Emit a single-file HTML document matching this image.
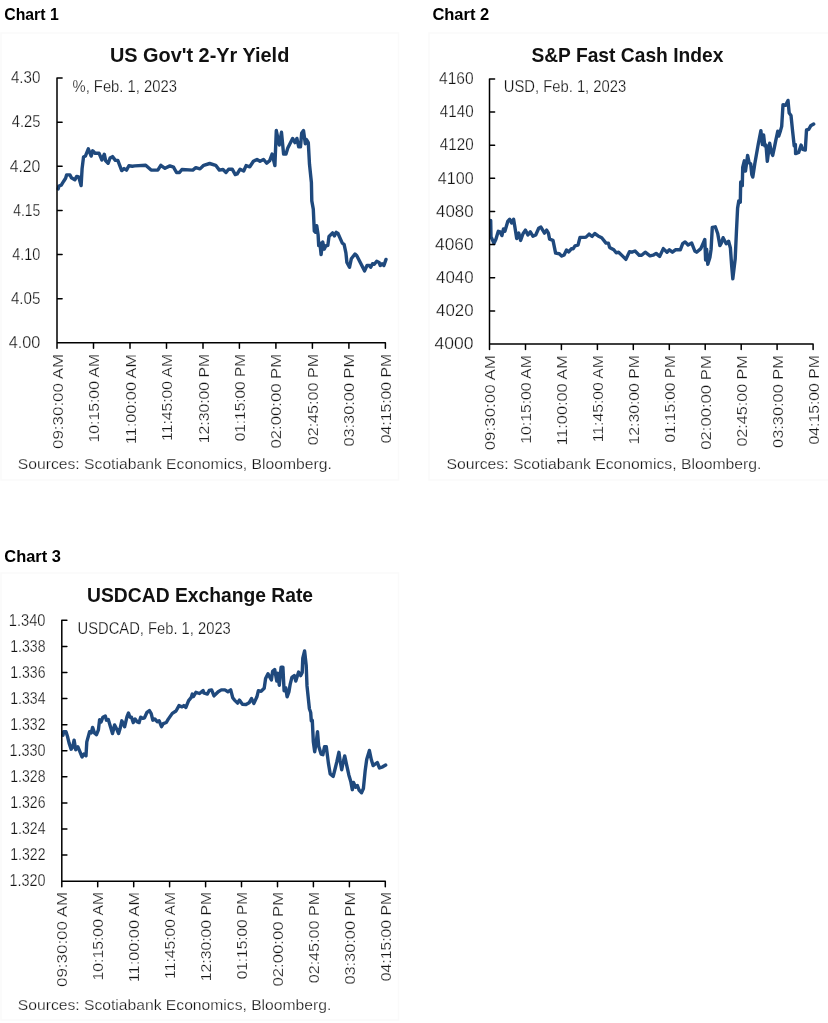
<!DOCTYPE html>
<html lang="en">
<head>
<meta charset="utf-8">
<title>Charts</title>
<style>
html,body{margin:0;padding:0;background:#fff;}
body{width:828px;height:1023px;overflow:hidden;font-family:'Liberation Sans', Arial, sans-serif;}
svg{display:block;}
svg text.t{stroke:#fff;stroke-width:0.25px;}
svg text{font-family:'Liberation Sans', Arial, sans-serif;white-space:pre;}
</style>
</head>
<body>
<svg width="828" height="1023" viewBox="0 0 828 1023">
<rect width="828" height="1023" fill="#fff"/>
<rect x="1" y="33" width="397.5" height="447" fill="none" stroke="#fafafa" stroke-width="1.5"/>
<text x="4.3" y="20.4" font-size="16.2" font-weight="bold" fill="#000" textLength="54.4" lengthAdjust="spacingAndGlyphs">Chart 1</text>
<text x="109.9" y="62.4" font-size="20.5" font-weight="bold" fill="#111" textLength="179.4" lengthAdjust="spacingAndGlyphs">US Gov't 2-Yr Yield</text>
<text x="72.5" y="92.1" font-size="16.8" class="t" fill="#141414" textLength="104.4" lengthAdjust="spacingAndGlyphs">%, Feb. 1, 2023</text>
<path d="M58.2,188.9 L58.9,186.0 L61.3,185.1 L63.7,181.2 L65.6,178.3 L66.6,174.9 L70.0,174.9 L71.4,177.8 L74.8,179.8 L76.7,176.4 L78.7,176.9 L81.1,185.6 L82.1,168.6 L83.5,157.1 L85.4,156.1 L88.3,148.8 L91.2,156.1 L92.7,150.8 L95.1,153.2 L99.0,153.2 L101.9,160.0 L104.3,154.2 L105.7,160.9 L108.1,163.3 L110.1,158.0 L112.5,156.6 L115.4,160.4 L117.8,160.4 L121.7,170.6 L124.1,168.6 L126.5,170.1 L128.9,165.7 L132.3,166.2 L134.8,165.9 L145.7,165.3 L151.1,170.1 L157.8,170.1 L160.8,165.3 L165.0,168.3 L169.9,165.9 L173.5,167.1 L176.5,172.5 L179.5,172.5 L181.9,169.5 L192.8,170.1 L195.8,167.7 L200.0,168.9 L203.7,165.3 L209.7,163.5 L215.7,165.3 L219.4,170.1 L223.0,169.5 L226.0,172.5 L228.6,169.2 L232.2,169.2 L235.3,174.6 L237.1,174.0 L240.1,169.2 L243.7,171.0 L246.1,165.6 L249.8,166.8 L253.4,161.3 L257.0,159.5 L260.0,161.3 L263.6,159.5 L266.7,163.1 L269.7,160.7 L272.1,154.1 L274.9,165.6 L276.3,130.5 L279.3,145.0 L281.5,132.3 L283.6,154.1 L286.0,154.1 L287.8,148.0 L292.6,138.4 L295.0,142.6 L296.9,138.4 L298.7,146.8 L300.5,146.8 L301.7,132.9 L303.5,130.5 L305.3,143.8 L306.5,139.6 L308.3,142.6 L309.5,164.3 L311.4,182.5 L311.8,200.9 L313.3,209.3 L314.3,231.1 L315.5,232.3 L316.7,225.6 L318.1,234.7 L318.7,245.6 L319.9,243.1 L321.1,254.6 L322.7,241.9 L324.2,249.2 L326.0,245.6 L327.8,245.6 L329.0,236.5 L332.6,232.9 L334.4,235.9 L336.2,232.3 L338.0,233.5 L342.3,243.1 L344.1,244.3 L345.9,252.8 L346.9,262.5 L349.5,267.3 L351.3,258.8 L355.0,254.0 L356.8,255.8 L364.6,270.9 L367.0,265.5 L369.4,265.5 L370.7,267.3 L372.5,263.7 L374.3,264.3 L376.7,261.3 L379.1,262.5 L380.3,265.5 L382.1,263.7 L383.9,265.5 L386.0,259.4" fill="none" stroke="#1f497d" stroke-width="3.4" stroke-linejoin="round" stroke-linecap="round"/>
<path d="M57.0,78.1 V342.8 H385.4 M57.0,78.1 h5.1 M57.0,122.2 h5.1 M57.0,166.3 h5.1 M57.0,210.5 h5.1 M57.0,254.6 h5.1 M57.0,298.7 h5.1 M57.0,342.8 v5.5 M93.5,342.8 v5.5 M130.0,342.8 v5.5 M166.5,342.8 v5.5 M203.0,342.8 v5.5 M239.4,342.8 v5.5 M275.9,342.8 v5.5 M312.4,342.8 v5.5 M348.9,342.8 v5.5 M385.4,342.8 v5.5" fill="none" stroke="#000" stroke-width="1.5" stroke-linecap="round" stroke-linejoin="round"/>
<text x="10.9" y="83.3" font-size="15.6" class="t" fill="#141414" textLength="29.5" lengthAdjust="spacingAndGlyphs">4.30</text>
<text x="11.7" y="127.4" font-size="15.6" class="t" fill="#141414" textLength="28.7" lengthAdjust="spacingAndGlyphs">4.25</text>
<text x="9.7" y="171.5" font-size="15.6" class="t" fill="#141414" textLength="30.7" lengthAdjust="spacingAndGlyphs">4.20</text>
<text x="13.2" y="215.7" font-size="15.6" class="t" fill="#141414" textLength="27.2" lengthAdjust="spacingAndGlyphs">4.15</text>
<text x="12.3" y="259.8" font-size="15.6" class="t" fill="#141414" textLength="28.1" lengthAdjust="spacingAndGlyphs">4.10</text>
<text x="10.9" y="303.9" font-size="15.6" class="t" fill="#141414" textLength="29.5" lengthAdjust="spacingAndGlyphs">4.05</text>
<text x="8.8" y="348.0" font-size="15.6" class="t" fill="#141414" textLength="31.6" lengthAdjust="spacingAndGlyphs">4.00</text>
<text transform="translate(62.5,449.0) rotate(-90)" font-size="15.5" class="t" fill="#141414" textLength="95.1" lengthAdjust="spacingAndGlyphs">09:30:00 AM</text>
<text transform="translate(99.0,442.5) rotate(-90)" font-size="15.5" class="t" fill="#141414" textLength="88.6" lengthAdjust="spacingAndGlyphs">10:15:00 AM</text>
<text transform="translate(135.5,444.3) rotate(-90)" font-size="15.5" class="t" fill="#141414" textLength="90.4" lengthAdjust="spacingAndGlyphs">11:00:00 AM</text>
<text transform="translate(172.0,440.9) rotate(-90)" font-size="15.5" class="t" fill="#141414" textLength="87.0" lengthAdjust="spacingAndGlyphs">11:45:00 AM</text>
<text transform="translate(208.5,443.2) rotate(-90)" font-size="15.5" class="t" fill="#141414" textLength="89.3" lengthAdjust="spacingAndGlyphs">12:30:00 PM</text>
<text transform="translate(244.9,441.3) rotate(-90)" font-size="15.5" class="t" fill="#141414" textLength="87.4" lengthAdjust="spacingAndGlyphs">01:15:00 PM</text>
<text transform="translate(281.4,448.5) rotate(-90)" font-size="15.5" class="t" fill="#141414" textLength="94.6" lengthAdjust="spacingAndGlyphs">02:00:00 PM</text>
<text transform="translate(317.9,445.3) rotate(-90)" font-size="15.5" class="t" fill="#141414" textLength="91.4" lengthAdjust="spacingAndGlyphs">02:45:00 PM</text>
<text transform="translate(354.4,446.6) rotate(-90)" font-size="15.5" class="t" fill="#141414" textLength="92.7" lengthAdjust="spacingAndGlyphs">03:30:00 PM</text>
<text transform="translate(390.9,443.2) rotate(-90)" font-size="15.5" class="t" fill="#141414" textLength="89.3" lengthAdjust="spacingAndGlyphs">04:15:00 PM</text>
<text x="17.8" y="469.0" font-size="15.3" class="t" fill="#141414" textLength="314.0" lengthAdjust="spacingAndGlyphs">Sources: Scotiabank Economics, Bloomberg.</text>
<rect x="429" y="33" width="411" height="447" fill="none" stroke="#fafafa" stroke-width="1.5"/>
<text x="432.4" y="20.4" font-size="16.2" font-weight="bold" fill="#000" textLength="56.8" lengthAdjust="spacingAndGlyphs">Chart 2</text>
<text x="531.4" y="62.1" font-size="20.5" font-weight="bold" fill="#111" textLength="192.0" lengthAdjust="spacingAndGlyphs">S&amp;P Fast Cash Index</text>
<text x="503.8" y="92.1" font-size="16.8" class="t" fill="#141414" textLength="122.4" lengthAdjust="spacingAndGlyphs">USD, Feb. 1, 2023</text>
<path d="M490.7,220.5 L491.0,236.8 L494.0,243.4 L495.9,239.2 L498.3,231.3 L500.1,231.9 L501.9,235.6 L503.5,228.9 L504.9,231.3 L507.9,221.1 L509.7,219.3 L511.6,222.9 L513.6,219.3 L514.8,226.5 L516.7,238.6 L518.8,233.1 L520.6,240.4 L523.0,233.7 L525.4,230.1 L527.9,235.0 L530.3,231.9 L532.9,236.2 L535.7,235.0 L538.7,228.3 L540.9,227.1 L544.5,233.1 L546.6,230.1 L548.4,233.1 L549.6,239.2 L553.0,240.4 L555.6,253.1 L559.3,253.7 L561.7,256.1 L564.1,254.9 L566.5,250.0 L568.7,251.9 L571.3,248.8 L573.1,248.8 L575.0,245.8 L578.0,245.2 L580.0,237.4 L584.6,237.4 L586.0,237.1 L589.1,234.1 L592.1,236.5 L594.7,233.5 L598.1,235.9 L601.7,237.7 L606.0,243.1 L608.4,243.1 L609.6,247.4 L613.8,249.8 L616.2,252.8 L618.6,252.2 L622.9,256.4 L625.9,259.4 L629.5,251.6 L631.9,252.2 L635.0,251.0 L639.2,255.2 L641.6,255.2 L645.2,252.2 L650.0,255.8 L653.1,255.2 L656.1,253.4 L659.7,256.4 L663.3,248.6 L667.0,252.2 L669.4,249.8 L672.4,252.2 L675.4,249.8 L680.3,249.8 L682.7,243.7 L685.1,241.9 L688.1,245.0 L691.7,243.1 L694.8,251.0 L696.6,252.2 L700.8,248.6 L703.2,243.1 L704.8,239.5 L705.6,260.0 L706.6,249.2 L707.8,264.3 L709.9,257.6 L711.1,249.2 L712.3,227.4 L715.3,226.8 L717.7,233.5 L719.9,245.6 L721.3,243.1 L723.1,237.7 L726.2,243.7 L728.6,241.3 L730.4,248.0 L731.6,264.9 L732.8,278.8 L735.2,258.8 L736.4,232.3 L737.6,208.1 L738.8,200.9 L740.3,202.1 L740.7,182.0 L742.3,185.6 L742.7,167.5 L744.3,160.8 L745.5,171.1 L747.6,155.4 L749.1,162.6 L750.7,163.8 L751.8,174.7 L752.8,177.1 L754.8,163.8 L756.7,153.0 L758.2,144.5 L760.9,130.6 L762.4,144.5 L763.6,134.9 L764.8,145.7 L766.0,145.1 L767.3,161.4 L769.7,143.3 L771.2,151.8 L772.7,155.4 L774.5,146.9 L775.7,140.9 L777.8,131.2 L778.7,136.1 L780.5,130.6 L781.7,126.4 L783.0,104.7 L785.7,105.3 L788.0,100.4 L789.2,113.1 L791.0,115.5 L792.6,131.2 L794.2,145.7 L795.4,144.5 L795.6,153.6 L798.7,152.4 L801.1,145.1 L802.6,149.3 L805.3,150.0 L806.5,130.0 L808.7,129.4 L810.7,125.8 L813.7,124.0" fill="none" stroke="#1f497d" stroke-width="3.4" stroke-linejoin="round" stroke-linecap="round"/>
<path d="M489.5,78.9 V344.0 H813.1 M489.5,78.9 h5.1 M489.5,112.0 h5.1 M489.5,145.2 h5.1 M489.5,178.3 h5.1 M489.5,211.5 h5.1 M489.5,244.6 h5.1 M489.5,277.7 h5.1 M489.5,310.9 h5.1 M489.5,344.0 v5.5 M525.5,344.0 v5.5 M561.4,344.0 v5.5 M597.4,344.0 v5.5 M633.3,344.0 v5.5 M669.3,344.0 v5.5 M705.2,344.0 v5.5 M741.2,344.0 v5.5 M777.1,344.0 v5.5 M813.1,344.0 v5.5" fill="none" stroke="#000" stroke-width="1.5" stroke-linecap="round" stroke-linejoin="round"/>
<text x="439.0" y="84.1" font-size="15.6" class="t" fill="#141414" textLength="34.6" lengthAdjust="spacingAndGlyphs">4160</text>
<text x="439.8" y="117.2" font-size="15.6" class="t" fill="#141414" textLength="33.8" lengthAdjust="spacingAndGlyphs">4140</text>
<text x="439.8" y="150.4" font-size="15.6" class="t" fill="#141414" textLength="33.8" lengthAdjust="spacingAndGlyphs">4120</text>
<text x="437.8" y="183.5" font-size="15.6" class="t" fill="#141414" textLength="35.8" lengthAdjust="spacingAndGlyphs">4100</text>
<text x="436.0" y="216.7" font-size="15.6" class="t" fill="#141414" textLength="37.6" lengthAdjust="spacingAndGlyphs">4080</text>
<text x="435.1" y="249.8" font-size="15.6" class="t" fill="#141414" textLength="38.5" lengthAdjust="spacingAndGlyphs">4060</text>
<text x="436.0" y="282.9" font-size="15.6" class="t" fill="#141414" textLength="37.6" lengthAdjust="spacingAndGlyphs">4040</text>
<text x="436.0" y="316.1" font-size="15.6" class="t" fill="#141414" textLength="37.6" lengthAdjust="spacingAndGlyphs">4020</text>
<text x="434.6" y="349.2" font-size="15.6" class="t" fill="#141414" textLength="39.0" lengthAdjust="spacingAndGlyphs">4000</text>
<text transform="translate(495.0,450.3) rotate(-90)" font-size="15.5" class="t" fill="#141414" textLength="95.1" lengthAdjust="spacingAndGlyphs">09:30:00 AM</text>
<text transform="translate(531.0,443.8) rotate(-90)" font-size="15.5" class="t" fill="#141414" textLength="88.6" lengthAdjust="spacingAndGlyphs">10:15:00 AM</text>
<text transform="translate(566.9,445.6) rotate(-90)" font-size="15.5" class="t" fill="#141414" textLength="90.4" lengthAdjust="spacingAndGlyphs">11:00:00 AM</text>
<text transform="translate(602.9,442.2) rotate(-90)" font-size="15.5" class="t" fill="#141414" textLength="87.0" lengthAdjust="spacingAndGlyphs">11:45:00 AM</text>
<text transform="translate(638.8,444.5) rotate(-90)" font-size="15.5" class="t" fill="#141414" textLength="89.3" lengthAdjust="spacingAndGlyphs">12:30:00 PM</text>
<text transform="translate(674.8,442.6) rotate(-90)" font-size="15.5" class="t" fill="#141414" textLength="87.4" lengthAdjust="spacingAndGlyphs">01:15:00 PM</text>
<text transform="translate(710.7,449.8) rotate(-90)" font-size="15.5" class="t" fill="#141414" textLength="94.6" lengthAdjust="spacingAndGlyphs">02:00:00 PM</text>
<text transform="translate(746.7,446.6) rotate(-90)" font-size="15.5" class="t" fill="#141414" textLength="91.4" lengthAdjust="spacingAndGlyphs">02:45:00 PM</text>
<text transform="translate(782.6,447.9) rotate(-90)" font-size="15.5" class="t" fill="#141414" textLength="92.7" lengthAdjust="spacingAndGlyphs">03:30:00 PM</text>
<text transform="translate(818.6,444.5) rotate(-90)" font-size="15.5" class="t" fill="#141414" textLength="89.3" lengthAdjust="spacingAndGlyphs">04:15:00 PM</text>
<text x="446.4" y="468.6" font-size="15.3" class="t" fill="#141414" textLength="315.0" lengthAdjust="spacingAndGlyphs">Sources: Scotiabank Economics, Bloomberg.</text>
<rect x="1" y="573" width="397.5" height="447" fill="none" stroke="#fafafa" stroke-width="1.5"/>
<text x="4.3" y="561.7" font-size="16.2" font-weight="bold" fill="#000" textLength="56.6" lengthAdjust="spacingAndGlyphs">Chart 3</text>
<text x="87.1" y="602.3" font-size="20.5" font-weight="bold" fill="#111" textLength="226.0" lengthAdjust="spacingAndGlyphs">USDCAD Exchange Rate</text>
<text x="77.6" y="634.2" font-size="16.8" class="t" fill="#141414" textLength="153.2" lengthAdjust="spacingAndGlyphs">USDCAD, Feb. 1, 2023</text>
<path d="M63.0,735.3 L63.6,731.7 L66.0,731.7 L67.5,736.5 L69.1,743.1 L71.1,749.2 L72.7,746.8 L74.1,740.1 L75.7,749.8 L77.9,746.8 L79.9,751.6 L82.0,757.0 L83.9,754.0 L86.0,755.8 L86.8,741.9 L89.6,731.7 L91.2,732.9 L92.6,727.4 L94.4,732.9 L96.5,734.7 L98.4,729.9 L99.6,719.6 L101.1,722.0 L102.9,717.2 L105.3,716.0 L106.5,720.2 L108.3,719.6 L110.7,727.4 L112.5,733.5 L114.6,725.0 L116.8,729.3 L118.6,733.5 L120.1,728.6 L121.8,720.8 L124.6,726.8 L127.0,716.6 L128.5,713.0 L130.0,717.2 L131.5,717.2 L133.3,722.6 L135.1,719.0 L137.3,722.0 L139.1,722.6 L140.7,717.2 L142.7,718.4 L144.5,717.8 L147.0,712.3 L149.4,710.5 L151.2,713.6 L152.8,720.2 L154.8,719.0 L157.2,721.7 L159.1,720.7 L161.5,726.7 L163.3,723.7 L166.3,722.5 L168.1,719.4 L172.3,713.4 L176.0,711.0 L179.0,705.6 L182.0,706.8 L183.8,705.6 L185.9,707.4 L188.6,700.7 L191.1,697.7 L192.3,694.1 L193.5,696.5 L195.9,692.3 L199.5,693.5 L203.1,690.5 L203.7,692.9 L207.4,694.1 L209.2,690.5 L211.6,689.9 L214.0,695.9 L218.2,691.7 L221.3,689.9 L224.9,689.9 L227.9,691.7 L230.7,689.9 L232.7,697.7 L234.5,700.1 L237.6,703.1 L239.4,700.1 L242.4,704.2 L246.0,704.5 L249.1,702.8 L251.5,698.6 L253.9,703.4 L256.9,696.8 L258.4,690.7 L261.1,691.3 L264.2,688.3 L265.6,678.6 L268.0,673.8 L271.4,679.9 L272.6,671.4 L274.7,669.6 L276.8,681.1 L277.7,673.2 L279.3,685.3 L281.1,667.2 L282.9,667.2 L284.1,690.7 L285.7,687.7 L287.1,696.8 L288.9,691.9 L290.1,684.7 L291.9,677.4 L294.3,675.6 L295.8,681.1 L298.6,672.0 L300.7,675.6 L302.2,672.6 L302.8,658.1 L304.6,650.9 L306.2,665.4 L307.0,685.9 L309.4,708.8 L310.7,712.5 L311.3,720.9 L312.3,720.3 L313.3,741.4 L314.7,751.7 L316.3,741.4 L317.5,731.7 L318.7,746.2 L321.1,754.1 L322.9,754.7 L324.5,746.8 L326.3,746.8 L328.4,763.1 L330.2,774.0 L333.2,776.4 L335.3,768.0 L336.8,761.9 L338.9,752.3 L340.1,760.7 L341.7,769.8 L343.2,761.9 L344.7,755.9 L346.5,764.3 L348.9,775.2 L350.7,781.3 L352.3,789.7 L353.5,782.5 L355.6,787.3 L357.4,785.5 L359.2,790.3 L361.6,792.7 L363.4,788.5 L365.2,770.4 L366.7,759.5 L369.4,750.5 L371.3,759.5 L373.1,765.6 L377.3,762.5 L379.5,768.0 L382.7,766.8 L385.7,765.0" fill="none" stroke="#1f497d" stroke-width="3.4" stroke-linejoin="round" stroke-linecap="round"/>
<path d="M61.8,620.3 V881.2 H385.3 M61.8,620.3 h5.1 M61.8,646.4 h5.1 M61.8,672.5 h5.1 M61.8,698.6 h5.1 M61.8,724.7 h5.1 M61.8,750.8 h5.1 M61.8,776.8 h5.1 M61.8,802.9 h5.1 M61.8,829.0 h5.1 M61.8,855.1 h5.1 M61.8,881.2 v5.5 M97.7,881.2 v5.5 M133.7,881.2 v5.5 M169.6,881.2 v5.5 M205.6,881.2 v5.5 M241.5,881.2 v5.5 M277.5,881.2 v5.5 M313.4,881.2 v5.5 M349.4,881.2 v5.5 M385.3,881.2 v5.5" fill="none" stroke="#000" stroke-width="1.5" stroke-linecap="round" stroke-linejoin="round"/>
<text x="8.8" y="625.5" font-size="15.6" class="t" fill="#141414" textLength="36.7" lengthAdjust="spacingAndGlyphs">1.340</text>
<text x="10.3" y="651.6" font-size="15.6" class="t" fill="#141414" textLength="35.2" lengthAdjust="spacingAndGlyphs">1.338</text>
<text x="10.3" y="677.7" font-size="15.6" class="t" fill="#141414" textLength="35.2" lengthAdjust="spacingAndGlyphs">1.336</text>
<text x="10.3" y="703.8" font-size="15.6" class="t" fill="#141414" textLength="35.2" lengthAdjust="spacingAndGlyphs">1.334</text>
<text x="10.3" y="729.9" font-size="15.6" class="t" fill="#141414" textLength="35.2" lengthAdjust="spacingAndGlyphs">1.332</text>
<text x="9.4" y="756.0" font-size="15.6" class="t" fill="#141414" textLength="36.1" lengthAdjust="spacingAndGlyphs">1.330</text>
<text x="10.3" y="782.0" font-size="15.6" class="t" fill="#141414" textLength="35.2" lengthAdjust="spacingAndGlyphs">1.328</text>
<text x="10.3" y="808.1" font-size="15.6" class="t" fill="#141414" textLength="35.2" lengthAdjust="spacingAndGlyphs">1.326</text>
<text x="10.3" y="834.2" font-size="15.6" class="t" fill="#141414" textLength="35.2" lengthAdjust="spacingAndGlyphs">1.324</text>
<text x="10.3" y="860.3" font-size="15.6" class="t" fill="#141414" textLength="35.2" lengthAdjust="spacingAndGlyphs">1.322</text>
<text x="9.4" y="886.4" font-size="15.6" class="t" fill="#141414" textLength="36.1" lengthAdjust="spacingAndGlyphs">1.320</text>
<text transform="translate(67.3,987.0) rotate(-90)" font-size="15.5" class="t" fill="#141414" textLength="95.1" lengthAdjust="spacingAndGlyphs">09:30:00 AM</text>
<text transform="translate(103.2,980.5) rotate(-90)" font-size="15.5" class="t" fill="#141414" textLength="88.6" lengthAdjust="spacingAndGlyphs">10:15:00 AM</text>
<text transform="translate(139.2,982.3) rotate(-90)" font-size="15.5" class="t" fill="#141414" textLength="90.4" lengthAdjust="spacingAndGlyphs">11:00:00 AM</text>
<text transform="translate(175.1,978.9) rotate(-90)" font-size="15.5" class="t" fill="#141414" textLength="87.0" lengthAdjust="spacingAndGlyphs">11:45:00 AM</text>
<text transform="translate(211.1,981.2) rotate(-90)" font-size="15.5" class="t" fill="#141414" textLength="89.3" lengthAdjust="spacingAndGlyphs">12:30:00 PM</text>
<text transform="translate(247.0,979.3) rotate(-90)" font-size="15.5" class="t" fill="#141414" textLength="87.4" lengthAdjust="spacingAndGlyphs">01:15:00 PM</text>
<text transform="translate(283.0,986.5) rotate(-90)" font-size="15.5" class="t" fill="#141414" textLength="94.6" lengthAdjust="spacingAndGlyphs">02:00:00 PM</text>
<text transform="translate(318.9,983.3) rotate(-90)" font-size="15.5" class="t" fill="#141414" textLength="91.4" lengthAdjust="spacingAndGlyphs">02:45:00 PM</text>
<text transform="translate(354.9,984.6) rotate(-90)" font-size="15.5" class="t" fill="#141414" textLength="92.7" lengthAdjust="spacingAndGlyphs">03:30:00 PM</text>
<text transform="translate(390.8,981.2) rotate(-90)" font-size="15.5" class="t" fill="#141414" textLength="89.3" lengthAdjust="spacingAndGlyphs">04:15:00 PM</text>
<text x="17.8" y="1009.7" font-size="15.3" class="t" fill="#141414" textLength="313.5" lengthAdjust="spacingAndGlyphs">Sources: Scotiabank Economics, Bloomberg.</text>
</svg>
</body>
</html>
